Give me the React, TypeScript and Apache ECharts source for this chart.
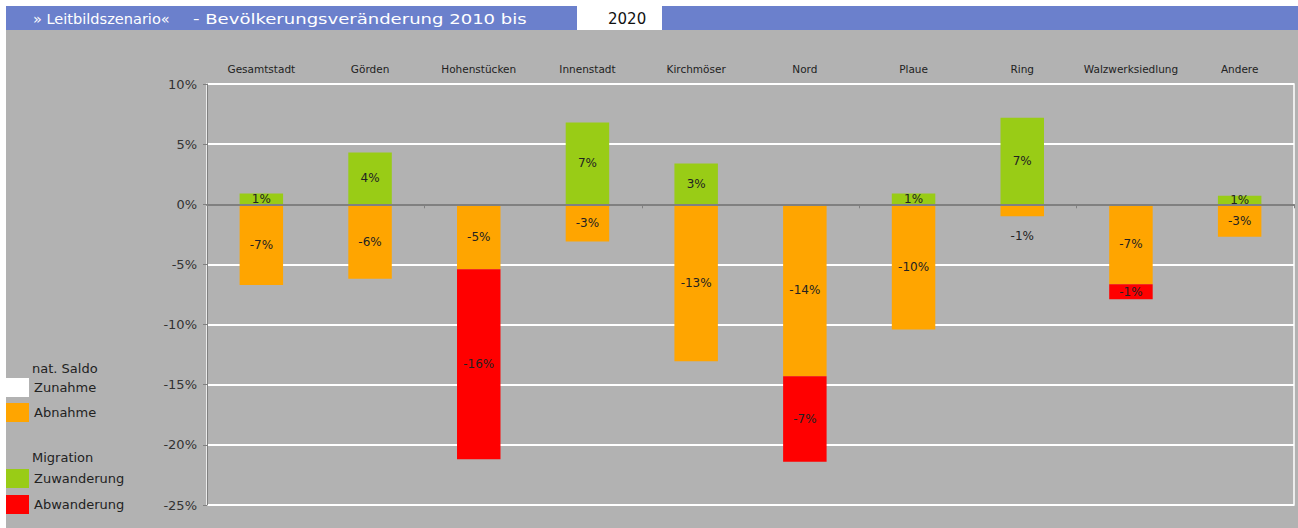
import React, { useEffect, useRef } from "react";
import * as echarts from "echarts";

const categories = ["Gesamtstadt", "Görden", "Hohenstücken", "Innenstadt", "Kirchmöser", "Nord", "Plaue", "Ring", "Walzwerksiedlung", "Andere"];
const zunahme: (number | null)[] = [null, null, null, null, null, null, null, null, null, null];
const abnahme = [-6.7, -6.2, -5.4, -3.1, -13.05, -14.3, -10.4, -1.0, -6.65, -2.7];
const zuwanderung: (number | null)[] = [0.9, 4.3, null, 6.8, 3.4, null, 0.9, 7.2, null, 0.7];
const abwanderung: (number | null)[] = [null, null, -15.8, null, null, -7.1, null, null, -1.25, null];
const yTicks = { min: -25, max: 10, interval: 5 };

const FONT = "DejaVu Sans";

export default function App() {
  const ref = useRef<HTMLDivElement>(null);
  useEffect(() => {
    document.body.style.margin = "0";
    const chart = echarts.init(ref.current!, null, { renderer: "svg" });
    const lbl = (v: any) => {
      const n = Array.isArray(v.value) ? v.value[1] : v.value;
      return n == null ? "" : Math.round(n) + "%";
    };
    const labelBase = { show: true, position: "inside", color: "#222", fontSize: 12, fontFamily: FONT, formatter: lbl };
    const orangeData = abnahme.map((v) =>
      Math.abs(v) < 1.5 ? { value: v, label: { position: "bottom", distance: 14 } } : v
    );
    const legendText = { color: "#222", fontSize: 13, fontFamily: FONT };
    chart.setOption({
      animation: false,
      backgroundColor: "#ffffff",
      textStyle: { fontFamily: FONT },
      graphic: [
        { type: "rect", z: -10, shape: { x: 6, y: 30, width: 1292, height: 498 }, style: { fill: "#b2b2b2" } },
        { type: "rect", z: -10, shape: { x: 6, y: 6, width: 1292, height: 24 }, style: { fill: "#6b80cc" } },
        { type: "rect", z: -9, shape: { x: 577, y: 6, width: 85, height: 24 }, style: { fill: "#ffffff" } },
        { type: "text", x: 33, y: 19, scaleX: 1.04, style: { text: "» Leitbildszenario«", fill: "#ffffff", font: `14px "${FONT}"`, textVerticalAlign: "middle" } },
        { type: "text", x: 193, y: 19, scaleX: 1.29, style: { text: "- Bevölkerungsveränderung 2010 bis", fill: "#ffffff", font: `14px "${FONT}"`, textVerticalAlign: "middle" } },
        { type: "text", x: 608, y: 19, style: { text: "2020", fill: "#111", font: `15px "${FONT}"`, textVerticalAlign: "middle" } },
        { type: "text", x: 32, y: 368, style: { text: "nat. Saldo", fill: "#222", font: `13px "${FONT}"`, textVerticalAlign: "middle" } },
        { type: "text", x: 32, y: 457, style: { text: "Migration", fill: "#222", font: `13px "${FONT}"`, textVerticalAlign: "middle" } },
      ],
      legend: [
        {
          data: ["Zunahme", "Abnahme"], orient: "vertical", left: 6, top: 378, itemWidth: 23, itemHeight: 19, itemGap: 6, padding: 0,
          icon: "rect", textStyle: legendText, selectedMode: false,
        },
        {
          data: ["Zuwanderung", "Abwanderung"], orient: "vertical", left: 6, top: 469, itemWidth: 23, itemHeight: 19, itemGap: 7, padding: 0,
          icon: "rect", textStyle: legendText, selectedMode: false,
        },
      ],
      grid: { left: 207, right: 4, top: 84, bottom: 23, show: true, borderColor: "#ffffff", borderWidth: 1.5, backgroundColor: "transparent" },
      xAxis: [
        {
          type: "category", data: categories, position: "top",
          axisLine: { show: false, onZero: false }, axisTick: { show: false },
          axisLabel: { color: "#222", fontSize: 10.5, fontFamily: FONT, margin: 10, interval: 0 },
        },
        {
          type: "category", data: categories, position: "bottom", z: 5,
          axisLine: { show: true, onZero: true, lineStyle: { color: "#808080", width: 2 } },
          axisTick: { show: true, length: 4, inside: false, lineStyle: { color: "#808080" } },
          axisLabel: { show: false },
        },
      ],
      yAxis: {
        type: "value", min: yTicks.min, max: yTicks.max, interval: yTicks.interval,
        axisLine: { show: true, lineStyle: { color: "#808080" } },
        axisTick: { show: true, length: 4, lineStyle: { color: "#808080" } },
        axisLabel: { formatter: (v: number) => v + "%", color: "#333", fontSize: 13, fontFamily: FONT, margin: 10 },
        splitLine: { show: true, lineStyle: { color: "#ffffff", width: 2 } },
      },
      series: [
        { name: "Zunahme", type: "bar", stack: "a", data: zunahme, barWidth: "40%", itemStyle: { color: "#ffffff" }, label: labelBase },
        { name: "Abnahme", type: "bar", stack: "a", data: orangeData, barWidth: "40%", itemStyle: { color: "#ffa500" }, label: labelBase },
        { name: "Zuwanderung", type: "bar", stack: "a", data: zuwanderung, barWidth: "40%", itemStyle: { color: "#99cc16" }, label: labelBase },
        { name: "Abwanderung", type: "bar", stack: "a", data: abwanderung, barWidth: "40%", itemStyle: { color: "#ff0000" }, label: labelBase },
      ],
    });
    return () => chart.dispose();
  }, []);
  return <div ref={ref} style={{ width: 1298, height: 528 }} />;
}
